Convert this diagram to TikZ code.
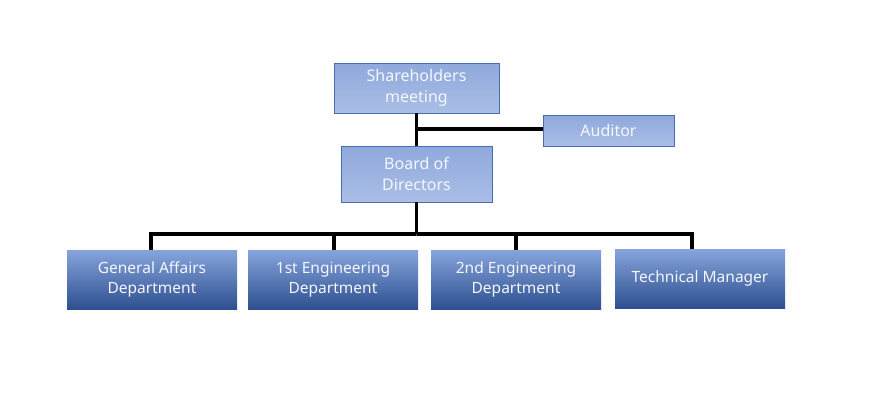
\documentclass[tikz,border=0pt]{standalone}
\usepackage{fontspec}
\setmainfont{Noto Sans}
\usetikzlibrary{positioning}
\definecolor{topfill}{HTML}{8FA9DC}
\definecolor{topfillb}{HTML}{AABEE6}
\definecolor{topline}{HTML}{4A6DB0}
\definecolor{btop}{HTML}{86A4DC}
\definecolor{bbot}{HTML}{2E5090}
\definecolor{txt}{HTML}{F4F6FA}
\tikzset{
  upbox/.style={draw=topline, line width=0.8pt, top color=topfill, bottom color=topfillb,
    text=txt, align=center, inner sep=0pt, font=\fontsize{16}{21.5}\selectfont},
  deptbox/.style={top color=btop, bottom color=bbot, text=txt, align=center, inner sep=0pt,
    minimum width=170pt, minimum height=59pt, font=\fontsize{15.5}{19.5}\selectfont},
  link/.style={line width=3.2pt, draw=black}
}
\begin{document}
\begin{tikzpicture}[x=1pt,y=-1pt]
\useasboundingbox[fill=white] (0,0) rectangle (885,413);
\node[upbox, minimum width=165pt, minimum height=50pt] (sh) at (416.5,88) {Shareholders\\meeting};
\node[upbox, minimum width=131pt, minimum height=31pt] (au) at (608.5,130.5) {Auditor};
\node[upbox, minimum width=151pt, minimum height=56pt] (bd) at (416.5,174) {Board of\\Directors};
\node[deptbox] (ga) at (152,279.5) {General Affairs\\Department};
\node[deptbox] (e1) at (333,279.5) {1st Engineering\\Department};
\node[deptbox] (e2) at (516,279.5) {2nd Engineering\\Department};
\node[deptbox] (tm) at (700,278.5) {Technical Manager};
\coordinate (j1) at (416.5,129);
\coordinate (j2) at (416.5,234);
\draw[link] (sh.south) -- (bd.north);
\draw[link] (j1) -- (au.west |- j1);
\draw[link] (bd.south) -- (j2);
\draw[link] (ga.north -| 151,0) |- (j2) -| (e1.north -| 334,0);
\draw[link] (j2) -| (e2.north);
\draw[link] (j2) -| (tm.north -| 692,0);
\end{tikzpicture}
\end{document}
